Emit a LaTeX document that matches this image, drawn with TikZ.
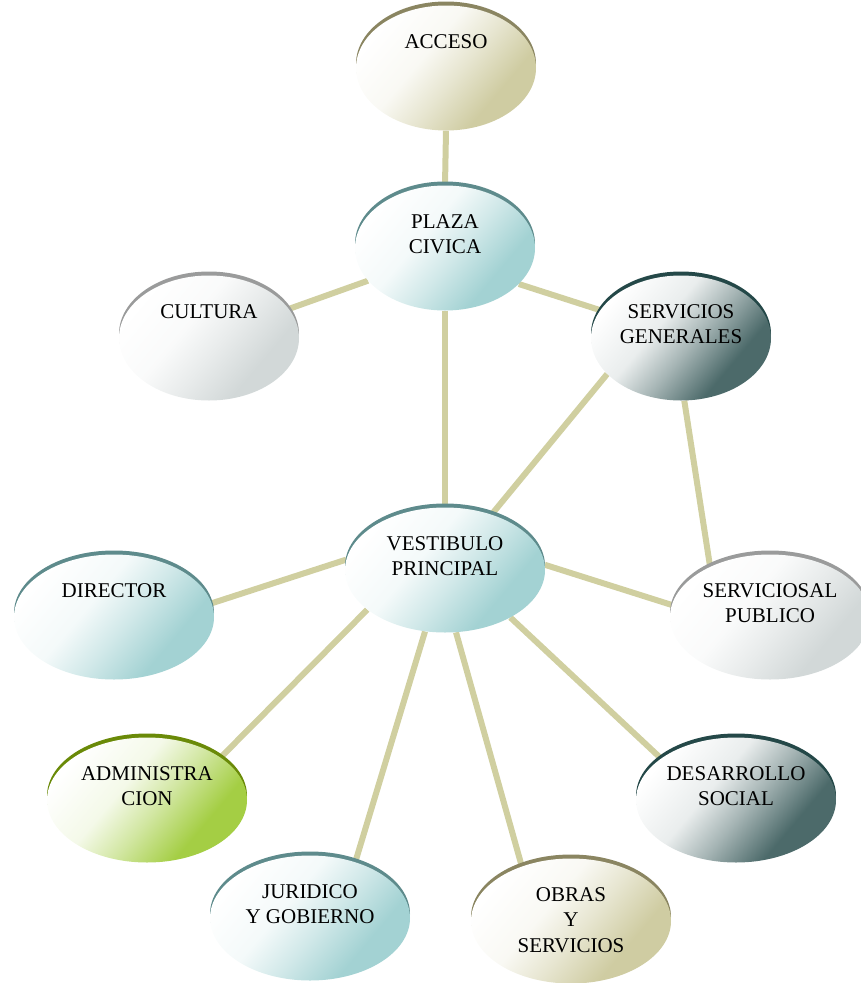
\documentclass[tikz,border=0pt]{standalone}
\usepackage{fontspec}
\setmainfont{Liberation Serif}
\usetikzlibrary{shapes.geometric,backgrounds}

\definecolor{tealdk}{HTML}{5E8B8C}
\definecolor{teallt}{HTML}{A3D2D3}
\definecolor{olivedk}{HTML}{8A8561}
\definecolor{olivelt}{HTML}{CFCCA2}
\definecolor{greydk}{HTML}{9A9B9B}
\definecolor{greylt}{HTML}{D2D8D8}
\definecolor{slatedk}{HTML}{244848}
\definecolor{slatelt}{HTML}{4C6A6A}
\definecolor{greendk}{HTML}{6A8A08}
\definecolor{greenlt}{HTML}{A4CE44}
\definecolor{linkc}{HTML}{D0CFA0}

% white upper left, colour at lower right
\pgfdeclareverticalshading{bubteal}{100bp}{color(0bp)=(teallt); color(32bp)=(teallt); color(46bp)=(teallt!50!white); color(58bp)=(teallt!12!white); color(75bp)=(white); color(100bp)=(white)}
\pgfdeclareverticalshading{bubolive}{100bp}{color(0bp)=(olivelt); color(32bp)=(olivelt); color(46bp)=(olivelt!50!white); color(58bp)=(olivelt!12!white); color(75bp)=(white); color(100bp)=(white)}
\pgfdeclareverticalshading{bubgrey}{100bp}{color(0bp)=(greylt); color(32bp)=(greylt); color(46bp)=(greylt!50!white); color(58bp)=(greylt!12!white); color(75bp)=(white); color(100bp)=(white)}
\pgfdeclareverticalshading{bubslate}{100bp}{color(0bp)=(slatelt); color(32bp)=(slatelt); color(46bp)=(slatelt!50!white); color(58bp)=(slatelt!12!white); color(75bp)=(white); color(100bp)=(white)}
\pgfdeclareverticalshading{bubgreen}{100bp}{color(0bp)=(greenlt); color(32bp)=(greenlt); color(46bp)=(greenlt!50!white); color(58bp)=(greenlt!12!white); color(75bp)=(white); color(100bp)=(white)}

\tikzset{
	bubble/.style={ellipse, inner sep=0pt, minimum width=180pt, minimum height=125pt,
		preaction={fill=#1dk, transform canvas={yshift=4pt}},
		shade, shading=bub#1, shading angle=50},
	wide/.style={minimum width=200pt},
	lbl/.style={anchor=north, yshift=-29pt, align=center, inner sep=0pt,
		font=\fontsize{21}{25.5}\selectfont},
	link/.style={draw=linkc, line width=6pt}
}

\begin{document}
\begin{tikzpicture}[x=1pt,y=-1pt]
	\useasboundingbox (0,0) rectangle (860,983);
	% ellipses
	\node [bubble=olive] (ac) at (446,68) {};
	\node [bubble=teal] (pc) at (445,248) {};
	\node [bubble=grey] (cu) at (209,338) {};
	\node [bubble=slate] (sg) at (681,338) {};
	\node [bubble=teal, wide] (vp) at (445,570) {};
	\node [bubble=teal, wide] (di) at (114,617) {};
	\node [bubble=grey, wide] (sp) at (770,617) {};
	\node [bubble=green, wide] (ad) at (147,800) {};
	\node [bubble=slate, wide] (ds) at (736,800) {};
	\node [bubble=teal, wide] (ju) at (310,918) {};
	\node [bubble=olive, wide] (ob) at (571,921) {};
	% texts
	\node [lbl] (ac-t) at (ac.north) {ACCESO};
	\node [lbl] (pc-t) at (pc.north) {PLAZA\\CIVICA};
	\node [lbl] (cu-t) at (cu.north) {CULTURA};
	\node [lbl] (sg-t) at (sg.north) {SERVICIOS\\GENERALES};
	\node [lbl] (vp-t) at (vp.north) {VESTIBULO\\PRINCIPAL};
	\node [lbl] (di-t) at (di.north) {DIRECTOR};
	\node [lbl] (sp-t) at (sp.north) {SERVICIOSAL\\PUBLICO};
	\node [lbl] (ad-t) at (ad.north) {ADMINISTRA\\CION};
	\node [lbl] (ds-t) at (ds.north) {DESARROLLO\\SOCIAL};
	\node [lbl] (ju-t) at (ju.north) {JURIDICO\\Y GOBIERNO};
	\node [lbl] (ob-t) at (ob.north) {OBRAS\\Y\\SERVICIOS};
	% links
	\begin{pgfonlayer}{background}
		\draw [link] (ac.south) -- (pc.north);
		\draw [link] (pc.203) -- (cu.20);
		\draw [link] (pc.334) -- (sg.161);
		\draw [link] (pc.south) -- (vp.north);
		\draw [link] (sg.206) -- (vp.50);
		\draw [link] (sg.273) -- (sp.140);
		\draw [link] (vp.174) -- (di.8);
		\draw [link] (vp.3) -- (sp.173);
		\draw [link] (vp.207) -- (ad.30);
		\draw [link] (vp.252) -- (ju.51);
		\draw [link] (vp.280) -- (ob.132);
		\draw [link] (vp.324) -- (ds.151);
	\end{pgfonlayer}
\end{tikzpicture}
\end{document}
